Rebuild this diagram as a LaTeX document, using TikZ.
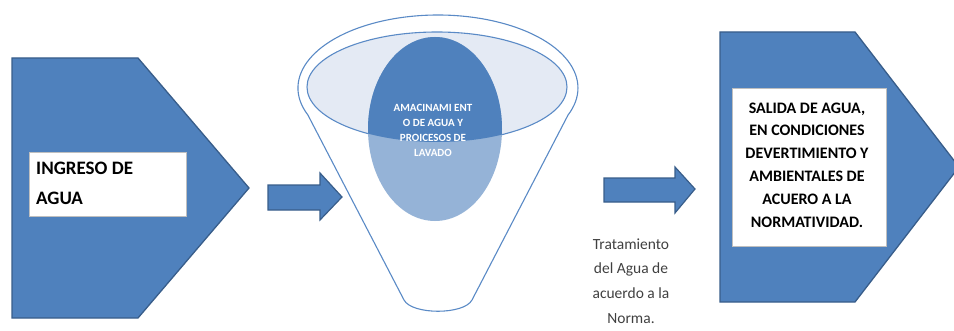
\documentclass[tikz,border=0pt]{standalone}
\usepackage{fontspec}
\setmainfont{Carlito}
\definecolor{bfill}{HTML}{4F81BD}
\definecolor{bline}{HTML}{385D8A}
\definecolor{fline}{HTML}{5A8AC6}
\definecolor{lightin}{HTML}{E4EAF4}
\definecolor{ovlow}{HTML}{95B3D7}
\definecolor{txtgray}{HTML}{404040}
\tikzset{
  pent/.style={fill=bfill, draw=bline, line width=1.3pt, line join=miter},
  blockarrow/.style={fill=bfill, draw=bline, line width=1.2pt, line join=miter},
  whitebox/.style={fill=white, draw=black!25, line width=0.6pt, inner sep=0pt},
  funnelline/.style={draw=fline, line width=1.1pt},
}
\begin{document}
\begin{tikzpicture}[x=1pt,y=1pt]
\useasboundingbox (0,0) rectangle (954,330);
\clip (0,0) rectangle (954,330);
% left pentagon
\draw[pent] (12,272) -- (138,272) -- (249,142) -- (138,12) -- (12,12) -- cycle;
\node[whitebox, minimum width=157pt, minimum height=64pt] (inbox) at (107.5,146) {};
\node[anchor=west, align=left, inner sep=0pt, font=\bfseries\fontsize{19}{30}\selectfont, text=black]
  (intext) at (36,147) {INGRESO DE\\AGUA};
% arrow 1
\coordinate (a1tip) at (342,133);
\draw[blockarrow] (268,145) -- (320,145) -- (320,157) -- (a1tip) -- (320,110) -- (320,120) -- (268,120) -- cycle;
% funnel
\draw[funnelline, fill=white] (307.9,215) arc[start angle=201.7, end angle=-21.7, x radius=140, y radius=73]
  -- (472,30) .. controls (464,15) and (412,15) .. (404,30) -- cycle;
\draw[funnelline, fill=lightin] (437,243) ellipse[x radius=130, y radius=55];
\fill[ovlow] (435,201) ellipse[x radius=67, y radius=92];
\begin{scope}
  \clip (437,243) ellipse[x radius=130, y radius=55];
  \fill[bfill] (435,201) ellipse[x radius=67, y radius=92];
\end{scope}
\node[align=center, inner sep=0pt, text=white, font=\bfseries\fontsize{11}{15}\selectfont]
  (store) at (433,200) {AMACINAMI ENT\\O DE AGUA Y\\PROICESOS DE\\LAVADO};
% arrow 2
\coordinate (a2tip) at (695,141);
\draw[blockarrow] (604,152) -- (675,152) -- (675,163) -- (a2tip) -- (675,117) -- (675,128) -- (604,128) -- cycle;
\node[align=center, inner sep=0pt, text=txtgray, font=\fontsize{15.5}{24.7}\selectfont]
  (treat) at (631,49) {Tratamiento\\del Agua de\\acuerdo a la\\Norma.};
% right pentagon
\draw[pent] (720,298) -- (855,298) -- (959,163) -- (855,28) -- (720,28) -- cycle;
\node[whitebox, minimum width=154pt, minimum height=158pt] (outbox) at (809,163) {};
\node[align=center, inner sep=0pt, text=black, font=\bfseries\fontsize{16}{22.8}\selectfont]
  (outtext) at (807,165) {SALIDA DE AGUA,\\EN CONDICIONES\\DEVERTIMIENTO Y\\AMBIENTALES DE\\ACUERO A LA\\NORMATIVIDAD.};
\end{tikzpicture}
\end{document}
